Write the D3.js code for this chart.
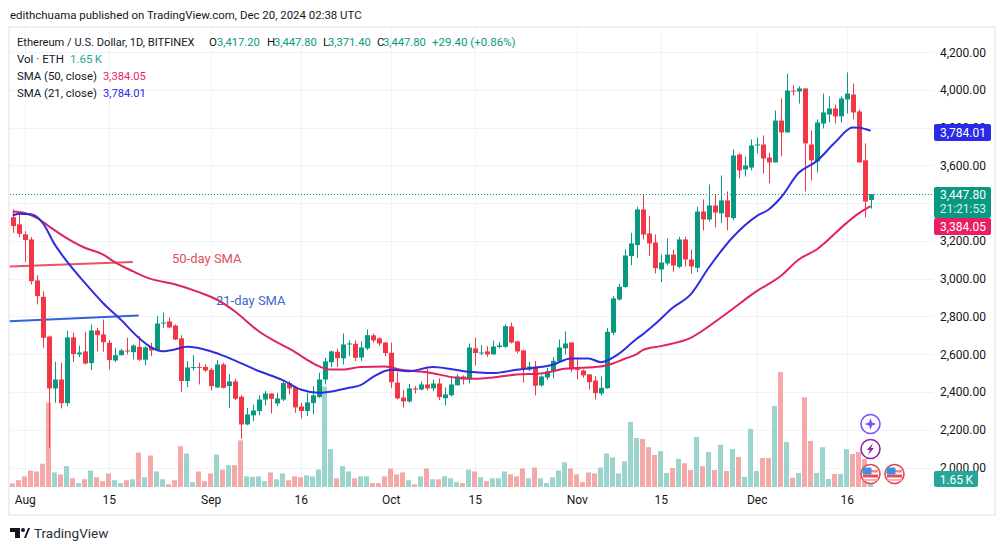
<!DOCTYPE html>
<html><head><meta charset="utf-8">
<script src="https://cdn.jsdelivr.net/npm/d3@7/dist/d3.min.js"></script>
<style>
html,body{margin:0;padding:0;background:#fff;width:1005px;height:550px;overflow:hidden}
svg{display:block}
text{font-family:Roboto,"Open Sans",sans-serif}
</style></head><body>
<svg id="c" width="1005" height="550"></svg>
<script>
const startDay = "2024-07-30";
const opens = [3326,3288,3235,3208,2991,2904,2694,2419,2466,2341,2689,2599,2615,2553,2726,2705,2661,2567,2595,2620,2611,2639,2571,2638,2620,2763,2774,2752,2684,2458,2528,2533,2533,2518,2424,2546,2431,2456,2375,2228,2276,2299,2360,2392,2339,2360,2447,2426,2323,2299,2341,2373,2466,2558,2613,2578,2652,2655,2583,2631,2700,2684,2662,2608,2450,2371,2350,2419,2413,2440,2419,2445,2367,2383,2436,2482,2466,2631,2604,2615,2599,2638,2639,2747,2668,2620,2519,2535,2435,2477,2509,2562,2631,2662,2521,2514,2493,2461,2392,2420,2714,2890,2956,3120,3178,3367,3240,3192,3049,3081,3128,3063,3208,3102,3058,3356,3314,3388,3346,3415,3321,3658,3579,3589,3706,3711,3642,3616,3838,3775,3997,3992,4008,3711,3621,3822,3870,3902,3860,3950,3976,3886,3627,3417.2];
const highs = [3367,3349,3252,3220,3019,2934,2699,2560,2555,2724,2714,2646,2719,2758,2740,2784,2675,2634,2629,2687,2652,2696,2643,2661,2802,2820,2795,2758,2701,2564,2595,2555,2546,2528,2569,2555,2493,2470,2383,2316,2334,2382,2405,2392,2396,2458,2458,2431,2343,2396,2431,2502,2581,2620,2629,2710,2673,2673,2668,2731,2710,2689,2664,2661,2505,2410,2443,2431,2456,2523,2466,2472,2424,2475,2493,2488,2657,2689,2648,2643,2673,2664,2758,2768,2673,2624,2560,2565,2488,2528,2585,2678,2721,2664,2581,2519,2495,2484,2482,2740,2908,2973,3155,3243,3381,3443,3332,3234,3128,3213,3155,3222,3222,3155,3381,3420,3499,3443,3547,3462,3685,3664,3646,3738,3748,3759,3667,3891,3955,4087,4024,4019,4008,3785,3844,3981,3966,3923,3966,4093,4034,3897,3717,3447.8];
const lows = [3243,3220,3088,2970,2864,2634,2104,2343,2313,2325,2558,2585,2546,2516,2616,2613,2519,2558,2594,2599,2572,2564,2542,2590,2616,2738,2738,2675,2399,2426,2514,2440,2505,2408,2422,2419,2315,2357,2152,2224,2246,2277,2329,2286,2325,2352,2387,2290,2260,2272,2281,2369,2440,2532,2532,2546,2590,2564,2564,2622,2661,2643,2590,2420,2360,2318,2343,2392,2408,2408,2405,2357,2329,2376,2433,2440,2445,2542,2594,2586,2599,2632,2634,2657,2604,2449,2511,2382,2429,2463,2472,2555,2599,2507,2466,2475,2413,2360,2382,2417,2701,2885,2952,3072,3111,3208,3120,3028,2982,3072,3037,3056,3065,3028,3035,3256,3303,3272,3296,3256,3309,3531,3542,3574,3664,3558,3505,3616,3648,3775,3971,3928,3462,3521,3563,3796,3828,3822,3828,3875,3844,3616,3325,3371.4];
const closes = [3279,3238,3205,2987,2908,2687,2419,2466,2341,2689,2601,2609,2551,2726,2701,2664,2569,2595,2620,2615,2646,2571,2636,2620,2763,2768,2742,2678,2458,2530,2532,2530,2514,2431,2546,2422,2456,2364,2228,2281,2302,2360,2392,2364,2366,2447,2419,2318,2299,2345,2382,2466,2562,2615,2579,2652,2657,2581,2636,2701,2673,2657,2606,2452,2366,2350,2419,2413,2440,2419,2445,2373,2387,2440,2482,2466,2636,2606,2609,2599,2641,2646,2749,2662,2615,2519,2535,2433,2482,2509,2565,2636,2657,2519,2516,2488,2452,2394,2422,2719,2896,2957,3123,3187,3367,3234,3187,3056,3086,3128,3070,3208,3102,3065,3356,3314,3388,3351,3415,3326,3653,3574,3600,3706,3711,3637,3616,3838,3775,3997,3994,4008,3717,3627,3828,3881,3902,3860,3955,3981,3881,3616,3409,3447.8];
const volumes = [0.7,1.4,2.2,3.4,3.2,4.8,17.4,3.0,2.6,4.3,1.8,0.8,1.6,3.4,2.0,1.2,2.8,1.4,0.8,1.4,1.6,7.1,2.0,6.5,3.2,1.6,0.55,1.4,8.4,6.9,1.0,3.2,1.2,2.8,6.7,3.6,4.5,4.5,9.6,2.2,2.1,2.2,1.2,3.0,1.6,2.8,1.4,2.2,2.0,2.4,2.2,3.6,20.7,7.8,1.8,4.3,3.2,1.8,2.2,2.2,0.8,0.8,2.2,3.8,2.6,3.0,1.4,0.55,2.2,3.8,1.6,1.6,2.2,1.8,1.0,0.8,3.6,3.2,2.0,1.2,1.8,1.8,3.2,2.6,2.2,3.8,1.8,4.0,1.8,0.8,2.0,3.4,5.1,3.8,2.6,1.0,3.0,2.8,4.0,6.9,6.1,2.8,5.3,13.4,10.1,9.9,8.2,6.6,7.4,2.9,3.9,5.8,4.9,3.5,10.3,4.3,7.2,3.5,8.7,3.3,7.8,6.2,2.1,12.0,3.3,6.0,6.0,16.7,23.7,9.3,1.9,2.9,18.5,9.5,2.9,8.2,1.65,2.7,2.7,7.8,6.8,7.2,5.8,1.65];
const sma50Days = [0,2,4,6,8,12,15,17,20,23,27,31,34,37,41,44,47,49,51,53,55,58,62,65,69,74,77,80,84,88,92,98,100,102,104,105,108,113,118,124,128,131,134,139,141,143];
const sma50 = [3356,3348,3323,3279,3235,3164,3129,3088,3040,2999,2971,2929,2890,2828,2722,2664,2613,2572,2537,2519,2519,2532,2535,2516,2505,2475,2470,2477,2493,2498,2523,2535,2551,2576,2600,2622,2643,2687,2793,2934,3014,3102,3155,3296,3346,3384.05];
const sma21Days = [0,1,3,5,7,9,12,15,18,21,23,25,27,29,33,36,41,45,48,51,54,56,58,60,63,66,70,76,80,84,90,93,96,98,101,104,105,107,110,113,116,120,124,126,128,131,134,137,140,141,143];
const sma21 = [3335,3344,3341,3296,3182,3093,2979,2873,2784,2687,2638,2616,2625,2639,2616,2581,2511,2463,2413,2396,2408,2422,2436,2479,2518,2510,2532,2507,2500,2518,2544,2578,2578,2558,2602,2682,2705,2758,2846,2917,3058,3220,3332,3367,3429,3561,3623,3720,3801,3800,3784.01];
const priceTicks = [2000,2200,2400,2600,2800,3000,3200,3400,3600,3800,4000,4200];
const priceLabelTicks = [2000,2200,2400,2600,2800,3000,3200,3600,3800,4000,4200];
const timeTickDates = ["2024-08-01","2024-08-15","2024-09-01","2024-09-16","2024-10-01","2024-10-15","2024-11-01","2024-11-15","2024-12-01","2024-12-16"];
const timeTickLabels = ["Aug","15","Sep","16","Oct","15","Nov","15","Dec","16"];
const trend50 = [["2024-07-29T12:00",3065],["2024-08-19",3088]];
const trend21 = [["2024-07-29T12:00",2775],["2024-08-20",2805]];
const headline = "edithchuama published on TradingView.com, Dec 20, 2024 02:38 UTC";
const legendTitle = "Ethereum / U.S. Dollar, 1D, BITFINEX";
const ohlc = [["O","3,417.20"],["H","3,447.80"],["L","3,371.40"],["C","3,447.80"]];
const change = "+29.40 (+0.86%)";

const UP="#089981",DN="#f23645",VUP="#9ad4cc",VDN="#f5a8a8",GRID="#f0f3fa",TXT="#131722";
const svg=d3.select("#c");
const parse=d3.utcParse("%Y-%m-%d");
const parseT=d3.utcParse("%Y-%m-%dT%H:%M");
const t0=parse(startDay);
const dayOf=i=>d3.utcDay.offset(t0,i);
const L=10,R=933,T=28,B=489;
const x=d3.scaleUtc().domain([t0,dayOf(143)]).range([12.7,870.7]);
const y=d3.scaleLinear().domain([2000,4200]).range([467.5,52.2]);
const v=d3.scaleLinear().domain([0,23.7]).range([487,372]);

// frame
svg.append("rect").attr("x",9).attr("y",27).attr("width",986).attr("height",488).attr("fill","none").attr("stroke","#eef0f3").attr("stroke-width",2);

// grid
const g=svg.append("g");
g.selectAll(".h").data(priceTicks).join("line").attr("x1",L).attr("x2",R).attr("y1",d=>Math.round(y(d))+.5).attr("y2",d=>Math.round(y(d))+.5).attr("stroke",GRID);
g.selectAll(".v").data(timeTickDates).join("line").attr("y1",T).attr("y2",B).attr("x1",d=>Math.round(x(parse(d)))+.5).attr("x2",d=>Math.round(x(parse(d)))+.5).attr("stroke",GRID);

// trendlines under the candles
const tline=d3.line().x(d=>x(parse(d[0])||parseT(d[0]))).y(d=>y(d[1]));
svg.append("path").attr("d",tline(trend50)).attr("fill","none").attr("stroke","#e8404f").attr("stroke-width",2).attr("opacity",.9);
svg.append("path").attr("d",tline(trend21)).attr("fill","none").attr("stroke","#2f63d8").attr("stroke-width",2);

// volume
const idx=d3.range(opens.length);
svg.append("g").selectAll("rect").data(idx).join("rect")
 .attr("x",i=>Math.round(x(dayOf(i))-2.5)).attr("width",5)
 .attr("y",i=>v(volumes[i])).attr("height",i=>v(0)-v(volumes[i]))
 .attr("fill",i=>closes[i]>=opens[i]?VUP:VDN);

// price line
svg.append("line").attr("x1",L).attr("x2",R).attr("y1",Math.round(y(closes[143]))+.5).attr("y2",Math.round(y(closes[143]))+.5)
 .attr("stroke",UP).attr("stroke-dasharray","1 2");

// candles
const cg=svg.append("g");
cg.selectAll("line").data(idx).join("line")
 .attr("x1",i=>Math.round(x(dayOf(i)))+.5).attr("x2",i=>Math.round(x(dayOf(i)))+.5)
 .attr("y1",i=>y(highs[i])).attr("y2",i=>y(lows[i]))
 .attr("stroke",i=>closes[i]>=opens[i]?UP:DN);
cg.selectAll("rect").data(idx).join("rect")
 .attr("x",i=>Math.round(x(dayOf(i)))-2).attr("width",5)
 .attr("y",i=>y(Math.max(opens[i],closes[i])))
 .attr("height",i=>Math.max(1,Math.abs(y(opens[i])-y(closes[i]))))
 .attr("fill",i=>closes[i]>=opens[i]?UP:DN);

// SMAs
const sl=days=>d3.line().x((d,i)=>x(dayOf(days[i]))).y(d=>y(d)).curve(d3.curveMonotoneX);
svg.append("path").attr("d",sl(sma50Days)(sma50)).attr("fill","none").attr("stroke","#e0245e").attr("stroke-width",2);
svg.append("path").attr("d",sl(sma21Days)(sma21)).attr("fill","none").attr("stroke","#2e2ee0").attr("stroke-width",2);

// annotations
svg.append("text").text("50-day SMA").attr("x",172).attr("y",262.5).attr("font-size",13).attr("fill","#e0505c");
svg.append("text").text("21-day SMA").attr("x",216).attr("y",304.5).attr("font-size",13).attr("fill","#3f68d0");

// axes
const ay=d3.axisRight(y).tickValues(priceLabelTicks).tickFormat(d3.format(",.2f")).tickSize(0);
const gy=svg.append("g").attr("transform","translate(940,0)").call(ay);
gy.select(".domain").remove();
gy.selectAll("text").attr("x",46).attr("text-anchor","end").attr("font-size",12).attr("font-family","Roboto").attr("fill",TXT);
const ax=d3.axisBottom(x).tickValues(timeTickDates.map(parse)).tickFormat((d,i)=>timeTickLabels[i]).tickSize(0);
const gx=svg.append("g").attr("transform","translate(0,489)").call(ax);
gx.select(".domain").remove();
gx.selectAll("text").attr("y",6).attr("font-size",12).attr("font-family","Roboto").attr("fill",TXT);

// price labels
function box(x0,y0,w,h,fill){svg.append("rect").attr("x",x0).attr("y",y0).attr("width",w).attr("height",h).attr("rx",2).attr("fill",fill);}
function lab(t,x0,y0,fill,a,fs){svg.append("text").text(t).attr("x",x0).attr("y",y0).attr("font-size",fs||12).attr("fill",fill).attr("text-anchor",a||"end");}
box(934,124,57,17,"#2a2ae8"); lab(d3.format(",.2f")(sma21[sma21.length-1]),986,137,"#fff");
box(934,187,57,31,UP); lab(d3.format(",.2f")(closes[143]),986,199,"#fff"); lab("21:21:53",986,213,"#d5f0eb");
box(934,218,57,17,"#e91e63"); lab(d3.format(",.2f")(sma50[sma50.length-1]),986,231,"#fff");
box(934,471,44,16,"#26a69a"); lab(volumes[143]+"\u2009K",973,483.5,"#fff");

// header + legend
svg.append("text").text(headline).attr("x",10).attr("y",19).attr("font-size",11.45).attr("fill",TXT);
lab(legendTitle,17,46,TXT,"start",11.1);
ohlc.forEach((o,k)=>{
  const xs=[[209,217],[267,274],[323,328],[377,383]][k];
  lab(o[0],xs[0],46,TXT,"start",11.5);
  lab(o[1],xs[1],46,UP,"start",11.2);
});
lab(change,432,46,UP,"start",11.5);
lab("Vol · ETH",17,63,TXT,"start",11.5); lab(volumes[143]+"\u2009K",70,63,"#26a69a","start",11.5);
lab("SMA (50, close)",17,80,TXT,"start",11.4); lab(d3.format(",.2f")(sma50[sma50.length-1]),103,80,"#e91e63","start",11.2);
lab("SMA (21, close)",17,97,TXT,"start",11.4); lab(d3.format(",.2f")(sma21[sma21.length-1]),103,97,"#2a2ae8","start",11.2);

// event icons
const ic=svg.append("g");
ic.append("circle").attr("cx",870.5).attr("cy",424).attr("r",9.5).attr("fill","#fff").attr("stroke","#7c4dff").attr("stroke-width",1.6);
ic.append("path").attr("d","M870.5 418l1.5 4.5 4.5 1.5-4.5 1.5-1.5 4.5-1.5-4.5-4.5-1.5 4.5-1.5z").attr("fill","#7c4dff");
ic.append("circle").attr("cx",870.5).attr("cy",449).attr("r",9.5).attr("fill","#fff").attr("stroke","#8e24aa").attr("stroke-width",1.6);
ic.append("path").attr("d","M873 443l-6 7h3l-2 5 6-7h-3z").attr("fill","#8e24aa");
[870.5,894.5].forEach(cx=>{
  ic.append("circle").attr("cx",cx).attr("cy",474).attr("r",9.5).attr("fill","#fff").attr("stroke","#e0474f").attr("stroke-width",1.6);
  ic.append("rect").attr("x",cx-7.5).attr("y",470).attr("width",15).attr("height",2.5).attr("fill","#f08a8e");
  ic.append("rect").attr("x",cx-7.5).attr("y",474.5).attr("width",15).attr("height",3).attr("fill","#ef4a52");
  ic.append("rect").attr("x",cx-7).attr("y",479).attr("width",14).attr("height",2).attr("fill","#f2b3b5");
  ic.append("rect").attr("x",cx-8).attr("y",467.5).attr("width",9).attr("height",7).attr("rx",1).attr("fill","#3d8fe0");
});

// TradingView logo
const lg=svg.append("g").attr("fill","#131722");
lg.append("path").attr("d","M10 528h10v10h-5v-6h-5z");
lg.append("circle").attr("cx",23).attr("cy",530).attr("r",2);
lg.append("path").attr("d","M24 538l4-10h2l-4 10z");
svg.append("text").text("TradingView").attr("x",34).attr("y",537.5).attr("font-size",13.5).attr("fill","#2a2e39");
</script></body></html>
